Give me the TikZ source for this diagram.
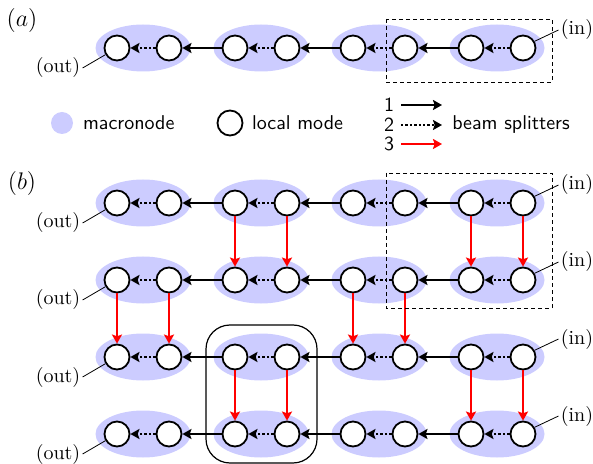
\documentclass[tikz,border=0pt]{standalone}
\usepackage{amsmath}
\usetikzlibrary{shapes.geometric,arrows.meta}
\tikzset{
	macro/.style={ellipse, fill=blue!20, minimum width=47.5pt, minimum height=23.5pt, inner sep=0pt},
	mode/.style={circle, draw, line width=0.9pt, fill=white, minimum size=12.5pt, inner sep=0pt},
	bsone/.style={->, line width=1pt},
	bstwo/.style={->, line width=1pt, dash pattern=on 1.2pt off 1pt},
	bsthree/.style={->, red, line width=1.3pt},
	tag/.style={inner sep=1pt},
	frame/.style={thin, dash pattern=on 2pt off 1.5pt},
}
\begin{document}
\begin{tikzpicture}[x=0.5pt, y=-0.5pt, >={Stealth[length=4.5pt, width=5pt, inset=0.8pt]}]
	\useasboundingbox (0,0) rectangle (593,464);
	% (a) one row of macronodes
	\node[font=\large] (la) at (22,21) {$(a)$};
	\foreach \m in {0,...,3} {
		\node[macro] (ma\m) at (143+118*\m,48) {};
		\node[mode] (al\m) at (117+118*\m,48) {};
		\node[mode] (ar\m) at (169+118*\m,48) {};
		\draw[bstwo] (ar\m) -- (al\m);
	}
	\foreach \m [remember=\m as \n (initially 0)] in {1,2,3}
		\draw[bsone] (al\m) -- (ar\n);
	\node[tag] (oa) at (58,68) {(out)};
	\draw (oa.east) -- (al0.210);
	\node[tag] (ia) at (577,30) {(in)};
	\draw (ar3.30) -- (ia.west);
	\draw[frame] (386,19) rectangle (552,82);
	% legend
	\node[macro, minimum width=11pt, minimum height=11pt] (kmacro) at (62,123) {};
	\node[anchor=west, font=\sffamily] (tmacro) at (76,123) {macronode};
	\node[mode] (kmode) at (230,123) {};
	\node[anchor=west, font=\sffamily] (tmode) at (245,123) {local mode};
	\node[font=\sffamily] (k1) at (389,105) {1};
	\node[font=\sffamily] (k2) at (389,125) {2};
	\node[font=\sffamily] (k3) at (389,144) {3};
	\coordinate (e1) at (442,105);
	\coordinate (e2) at (442,125);
	\coordinate (e3) at (442,144);
	\draw[bsone] (k1) -- (e1);
	\draw[bstwo] (k2) -- (e2);
	\draw[bsthree] (k3) -- (e3);
	\node[font=\sffamily] (tbs) at (511,125) {beam splitters};
	% (b) four rows
	\node[font=\large] (lb) at (22,184) {$(b)$};
	\foreach \r in {1,...,4} {
		\foreach \m in {0,...,3} {
			\node[macro] (mb\r\m) at (143+118*\m,203+77*\r-77) {};
			\node[mode] (bl\r\m) at (117+118*\m,203+77*\r-77) {};
			\node[mode] (br\r\m) at (169+118*\m,203+77*\r-77) {};
			\draw[bstwo] (br\r\m) -- (bl\r\m);
		}
		\foreach \m [remember=\m as \n (initially 0)] in {1,2,3}
			\draw[bsone] (bl\r\m) -- (br\r\n);
		\node[tag] (ob\r) at (58,223+77*\r-77) {(out)};
		\draw (ob\r.east) -- (bl\r0.210);
		\node[tag] (ib\r) at (577,185+77*\r-77) {(in)};
		\draw (br\r3.30) -- (ib\r.west);
	}
	\foreach \r/\m/\s in {1/1/2, 1/3/2, 2/0/3, 2/2/3, 3/1/4, 3/3/4} {
		\draw[bsthree] (bl\r\m) -- (bl\s\m);
		\draw[bsthree] (br\r\m) -- (br\s\m);
	}
	\draw[frame] (386,173) rectangle (552,308);
	\draw[rounded corners=12pt, semithick] (206,325) rectangle (317,463);
\end{tikzpicture}
\end{document}
